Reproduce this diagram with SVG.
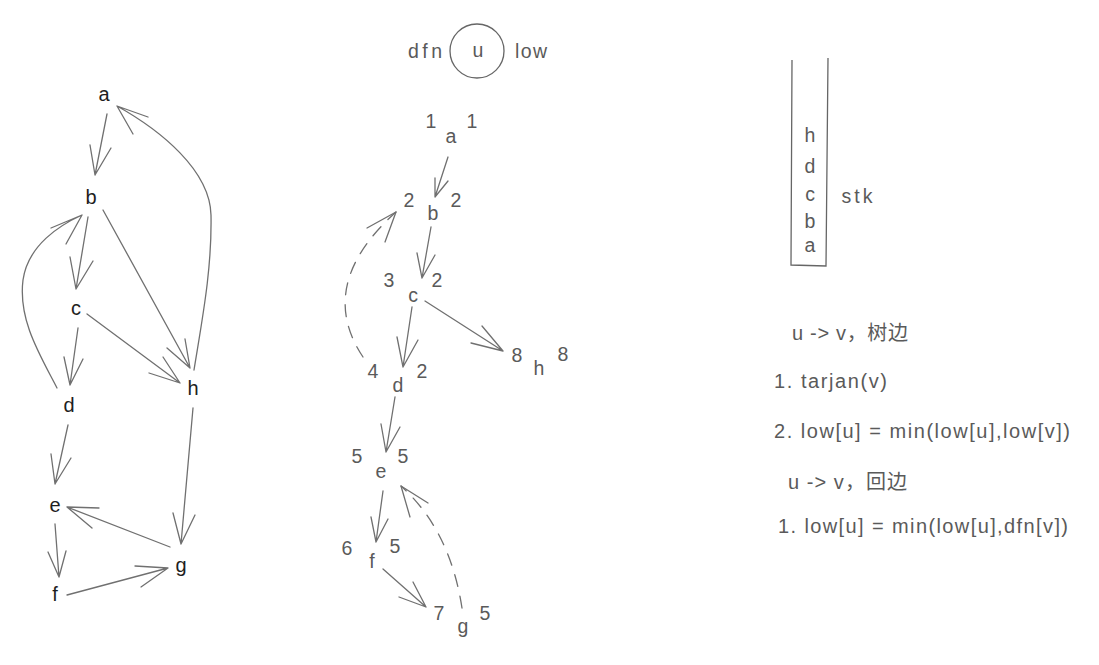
<svg xmlns="http://www.w3.org/2000/svg" width="1099" height="665" viewBox="0 0 1099 665">
<style>
text{font-family:"Liberation Sans","Noto Sans CJK SC",sans-serif;}
.nb{font-size:20px;fill:#1e1e1e;text-anchor:middle;}
.ng{font-size:19.5px;fill:#5a5a5a;text-anchor:middle;}
.tx{font-size:20px;fill:#5a5a5a;}
.e{fill:none;stroke:#707070;stroke-width:1.3;stroke-linecap:round;stroke-linejoin:round;}
.d{fill:none;stroke:#707070;stroke-width:1.3;stroke-linecap:round;stroke-dasharray:12 10;}
</style>
<rect width="1099" height="665" fill="#ffffff"/>
<g id="connectors">
<path class="e" d="M107,114 L95,175 M90,145 L95,175 L111,148"/>
<path class="e" d="M88,217 L76,289 M70,257 L76,289 L93,261"/>
<path class="e" d="M103,210 L190,368 M167,348 L190,368 L185,339"/>
<path class="e" d="M87,314 L180,383 M149,373 L180,383 L163,357"/>
<path class="e" d="M194,370 C202,320 212,270 211,215 C210,170 160,130 117,106 M148,117 L117,106 L133,134"/>
<path class="e" d="M57,388 C40,355 18,320 23,280 C28,245 60,225 82,215 M51,228 L82,215 L66,244"/>
<path class="e" d="M78,328 L70,385 M64,357 L70,385 L83,359"/>
<path class="e" d="M68,425 L55,484 M51,454 L55,484 L71,458"/>
<path class="e" d="M55,524 L59,577 M48,552 L59,577 L66,551"/>
<path class="e" d="M67,595 L168,568 M135,566 L168,568 L141,587"/>
<path class="e" d="M170,547 L67,507 M99,508 L67,507 L92,528"/>
<path class="e" d="M193,408 L181,544 M173,513 L181,544 L195,515"/>
<path class="e" d="M448,157 L435,197 M435,178 L435,197 L448,181"/>
<path class="e" d="M431,227 L422,278 M417,253 L422,278 L435,255"/>
<path class="e" d="M412,307 L403,367 M397,337 L403,367 L418,340"/>
<path class="e" d="M425,301 L503,351 M471,343 L503,351 L482,326"/>
<path class="e" d="M395,397 L386,452 M381,424 L386,452 L400,427"/>
<path class="e" d="M383,491 L376,542 M371,517 L376,542 L388,519"/>
<path class="e" d="M383,569 L426,607 M399,597 L426,607 L413,582"/>
<path class="d" d="M363,357 Q315,285 396,212"/>
<path class="e" d="M367,228 L396,212 L385,242"/>
<path class="d" d="M462,608 Q450,530 401,486"/>
<path class="e" d="M410,517 L401,486 L428,503"/>
</g>
<g id="graph-left">
<g id="na"><text class="nb" x="104" y="101">a</text></g>
<g id="nb"><text class="nb" x="91" y="204">b</text></g>
<g id="nc"><text class="nb" x="76" y="315">c</text></g>
<g id="nd"><text class="nb" x="69" y="412">d</text></g>
<g id="ne"><text class="nb" x="55" y="512">e</text></g>
<g id="nf"><text class="nb" x="55" y="601">f</text></g>
<g id="ng"><text class="nb" x="181" y="572">g</text></g>
<g id="nh"><text class="nb" x="193" y="395">h</text></g>
</g>
<g id="legend">
<circle cx="477" cy="51" r="27" fill="none" stroke="#666" stroke-width="1.3"/>
<text class="ng" x="425" y="58" textLength="34" lengthAdjust="spacing">dfn</text>
<text class="ng" x="478" y="57">u</text>
<text class="ng" x="531" y="58" textLength="32" lengthAdjust="spacing">low</text>
</g>
<g id="tree">
<g id="ta"><text class="ng" x="431" y="128">1</text><text class="ng" x="451" y="143">a</text><text class="ng" x="472" y="128">1</text></g>
<g id="tb"><text class="ng" x="409" y="207">2</text><text class="ng" x="433" y="220">b</text><text class="ng" x="456" y="207">2</text></g>
<g id="tc"><text class="ng" x="389" y="287">3</text><text class="ng" x="413" y="302">c</text><text class="ng" x="437" y="287">2</text></g>
<g id="th"><text class="ng" x="517" y="362">8</text><text class="ng" x="539" y="375">h</text><text class="ng" x="563" y="361">8</text></g>
<g id="td"><text class="ng" x="373" y="378">4</text><text class="ng" x="398" y="392">d</text><text class="ng" x="422" y="378">2</text></g>
<g id="te"><text class="ng" x="357" y="463">5</text><text class="ng" x="381" y="478">e</text><text class="ng" x="403" y="463">5</text></g>
<g id="tf"><text class="ng" x="347" y="555">6</text><text class="ng" x="372" y="568">f</text><text class="ng" x="395" y="553">5</text></g>
<g id="tg"><text class="ng" x="439" y="620">7</text><text class="ng" x="463" y="633">g</text><text class="ng" x="485" y="620">5</text></g>
</g>
<g id="stack">
<path d="M792,60 L791,265 L826,266 L828,58" fill="none" stroke="#666" stroke-width="1.3"/>
<text class="ng" x="810" y="142">h</text>
<text class="ng" x="810" y="173">d</text>
<text class="ng" x="810" y="201">c</text>
<text class="ng" x="810" y="228">b</text>
<text class="ng" x="810" y="252">a</text>
<text class="ng" x="857" y="203" textLength="31" lengthAdjust="spacing">stk</text>
</g>
<g id="notes">
<text class="tx" x="792" y="340" textLength="116" lengthAdjust="spacing">u -&gt; v，树边</text>
<text class="tx" x="774" y="388" textLength="113" lengthAdjust="spacing">1. tarjan(v)</text>
<text class="tx" x="774" y="438" textLength="296" lengthAdjust="spacing">2. low[u] = min(low[u],low[v])</text>
<text class="tx" x="788" y="489" textLength="119" lengthAdjust="spacing">u -&gt; v，回边</text>
<text class="tx" x="778" y="533" textLength="290" lengthAdjust="spacing">1. low[u] = min(low[u],dfn[v])</text>
</g>
</svg>
